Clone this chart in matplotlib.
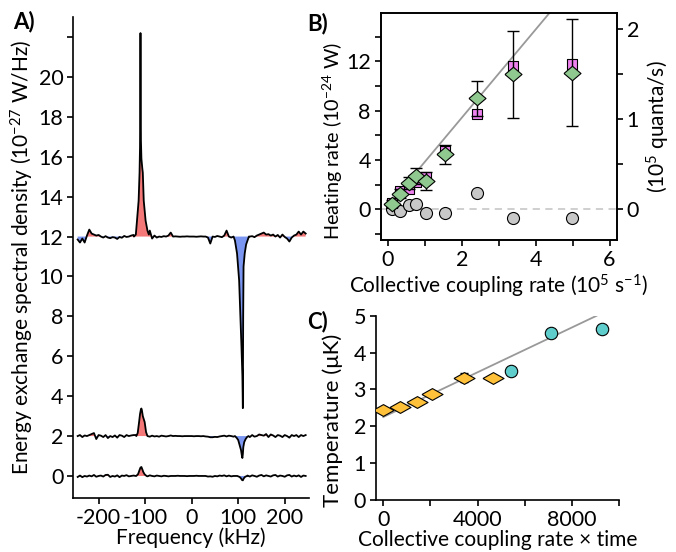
import numpy as np
import matplotlib
matplotlib.use('Agg')
import matplotlib.pyplot as plt
from matplotlib.ticker import MultipleLocator, FixedLocator
from matplotlib.path import Path

plt.rcParams['font.family'] = ['Lato', 'DejaVu Sans']
plt.rcParams['mathtext.fontset'] = 'custom'
plt.rcParams['mathtext.rm'] = 'Lato'
plt.rcParams['mathtext.it'] = 'Lato:italic'
plt.rcParams['axes.unicode_minus'] = False
plt.rcParams['font.size'] = 15
plt.rcParams['axes.linewidth'] = 1.2
for a in ('x', 'y'):
    plt.rcParams[a + 'tick.direction'] = 'out'
    plt.rcParams[a + 'tick.major.width'] = 1.2
    plt.rcParams[a + 'tick.minor.width'] = 1.2
    plt.rcParams[a + 'tick.major.size'] = 4.5
    plt.rcParams[a + 'tick.minor.size'] = 4.5
    plt.rcParams[a + 'tick.major.pad'] = 2.5
    plt.rcParams[a + 'tick.labelsize'] = 15.5

# ---------------- panel A : spectra (deviation from baseline) ----------------
grid = np.arange(-245, 246, 5)
top_noise = [-0.15, -0.3, -0.1, -0.3, 0.05, 0.35, 0.15, 0.1, 0.05, 0.08,
             0.0, -0.05, 0.02, -0.05, -0.08, -0.03, -0.05, -0.12, -0.02, -0.06,
             0.03, -0.02, 0.0, 0.05, 0.08, 0.05, 0.0, 0.0, 0.0, 0.0,
             0.1, 0.3, -0.1, 0.05, -0.05, 0.0, -0.02, 0.02, 0.0, 0.05,
             0.2, 0.0, 0.01, 0.0, -0.01, 0.0, 0.0, 0.01, 0.0, 0.0,
             0.0, -0.01, 0.0, 0.01, 0.0, 0.0, -0.05, -0.35, 0.0, -0.02,
             0.03, 0.0, -0.03, 0.05, 0.3, 0.0, -0.05, 0.0, 0.0, 0.0,
             0.0, 0.0, 0.0, -0.1, 0.0, 0.02, -0.03, 0.05, 0.1, 0.15,
             0.2, 0.1, 0.12, 0.05, 0.1, 0.0, 0.08, -0.05, 0.1, -0.02,
             -0.1, -0.25, -0.05, 0.05, 0.1, 0.25, 0.1, 0.25, 0.15]
top_peak_f = [-124, -120, -117.5, -114, -112, -111, -110, -109, -108, -106, -105, -103, -99, -95, -92]
top_peak_v = [0.0, 0.1, 0.8, 1.8, 3.2, 4.5, 10.2, 4.8, 3.9, 3.4, 3.2, 1.8, 0.8, 0.3, 0.1]
top_dip_f = [90, 93, 97.5, 102, 105, 107, 109, 110, 110.7, 111.5, 114, 117, 120, 123]
top_dip_v = [0.0, -0.2, -0.85, -2.2, -4.2, -5.5, -7.0, -8.6, -4.0, -1.5, -0.85, -0.4, -0.2, 0.0]

mid_noise = [0.0, 0.05, -0.05, 0.03, 0.0, 0.05, 0.1, 0.15, -0.15, 0.05,
             0.02, -0.05, 0.05, -0.1, 0.0, -0.05, 0.03, -0.08, 0.05, 0.02,
             -0.05, 0.05, 0.0, 0.03, 0.05, 0.05, 0.0, 0.0, 0.0, 0.0,
             0.05, -0.03, 0.02, -0.02, 0.0, -0.03, 0.02, 0.0, -0.02, 0.0,
             0.03, 0.0, 0.01, 0.0, 0.0, -0.01, 0.0, 0.0, 0.0, 0.0,
             -0.01, 0.0, 0.0, -0.01, 0.0, -0.02, -0.03, -0.06, -0.06, -0.04,
             -0.05, -0.02, 0.0, 0.02, -0.02, 0.02, 0.0, -0.03, 0.0, 0.0,
             0.0, 0.0, 0.0, 0.0, -0.05, 0.05, -0.03, 0.0, 0.08, 0.05,
             0.02, 0.1, -0.05, 0.08, 0.03, -0.05, 0.05, 0.02, -0.05, 0.05,
             0.0, -0.08, 0.05, 0.0, 0.05, -0.05, 0.05, 0.0, 0.05]
mid_peak_f = [-119, -116, -113, -111, -109, -108, -107, -105, -103, -101, -98, -95]
mid_peak_v = [0.0, 0.15, 0.7, 1.1, 1.35, 1.38, 1.3, 1.0, 0.85, 0.7, 0.2, 0.0]
mid_dip_f = [93, 97, 100, 103, 106, 108, 109, 110, 111, 113, 116, 119, 122]
mid_dip_v = [0.0, -0.1, -0.2, -0.45, -0.7, -1.0, -1.1, -0.9, -0.55, -0.3, -0.15, -0.05, 0.0]

bot_noise = [-0.05, 0.02, -0.06, 0.0, -0.03, 0.02, -0.02, 0.05, -0.04, 0.0,
             0.02, -0.03, 0.05, 0.06, -0.05, 0.0, -0.03, 0.03, -0.06, 0.02,
             0.0, 0.04, -0.02, 0.0, 0.02, 0.0, 0.0, 0.0, 0.0, 0.0,
             -0.02, 0.03, 0.0, -0.02, 0.02, 0.0, -0.02, 0.01, 0.0, -0.02,
             0.0, 0.0, 0.0, 0.01, 0.0, 0.0, 0.0, -0.01, 0.0, 0.0,
             0.0, 0.01, 0.0, 0.0, 0.0, 0.0, -0.03, -0.02, -0.04, 0.0,
             -0.02, 0.02, 0.0, 0.03, -0.02, 0.02, -0.02, 0.0, 0.0, 0.0,
             0.0, 0.0, 0.0, 0.02, -0.03, 0.03, 0.0, -0.04, 0.02, 0.05,
             -0.02, 0.03, 0.0, -0.03, 0.03, 0.05, -0.03, 0.02, 0.0, -0.04,
             0.03, 0.05, -0.03, 0.02, -0.02, 0.03, -0.05, 0.02, 0.0]
bot_peak_f = [-119, -115, -112, -110, -108, -106, -104, -101, -97]
bot_peak_v = [0.0, 0.1, 0.3, 0.42, 0.45, 0.33, 0.2, 0.08, 0.0]
bot_dip_f = [98, 103, 106, 108, 110, 112, 115, 119]
bot_dip_v = [0.0, -0.05, -0.12, -0.2, -0.22, -0.12, -0.04, 0.0]

offsets = [12, 2, 0]

# ---------------- panel B : heating rate ----------------
coupling = [0.1, 0.32, 0.56, 0.77, 1.04, 1.54, 2.40, 3.38, 4.98]
heat_sq = [0.5, 1.49, 1.68, 2.22, 2.63, 4.75, 7.71, 11.67, 11.81]
heat_dm = [0.46, 1.28, 2.12, 2.74, 2.28, 4.45, 9.01, 10.95, 11.08]
heat_err = [0.3, 0.4, 0.5, 0.65, 0.75, 0.8, 1.4, 3.5, 4.35]
heat_ci = [0.0, -0.14, 0.38, 0.46, -0.27, -0.27, 1.30, -0.68, -0.73]
fit_b = [0.0, 4.39]
fit_b_slope = 3.58
fit_b_icpt = 0.28

# ---------------- panel C : temperature ----------------
ct_dm = [0, 705, 1410, 2073, 3413, 4654]
temp_dm = [2.44, 2.51, 2.67, 2.88, 3.32, 3.32]
temp_dm_err = [0.0, 0.0, 0.0, 0.0, 0.12, 0.0]
ct_ci = [5430, 7094, 9280]
temp_ci = [3.49, 4.54, 4.63]
fit_c = [0, 9030]
fit_c_slope = 3.04e-4
fit_c_icpt = 2.25

red = '#F47878'
blue = '#7B96F0'

fig = plt.figure(figsize=(6.76, 5.52), dpi=100)

# panel A
axA = fig.add_axes([0.108, 0.098, 0.349, 0.871])
for noise, pf, pv, df, dv, off in [
        (top_noise, top_peak_f, top_peak_v, top_dip_f, top_dip_v, offsets[0]),
        (mid_noise, mid_peak_f, mid_peak_v, mid_dip_f, mid_dip_v, offsets[1]),
        (bot_noise, bot_peak_f, bot_peak_v, bot_dip_f, bot_dip_v, offsets[2])]:
    noise = np.array(noise)
    keep = ~(((grid >= pf[0]) & (grid <= pf[-1])) | ((grid >= df[0]) & (grid <= df[-1])))
    f = np.concatenate([grid[keep], pf, df])
    v = np.concatenate([noise[keep], pv, dv])
    order = np.argsort(f)
    f, v = f[order], v[order]
    axA.fill_between(f, off, off + v, where=v > 0, interpolate=True, color=red, lw=0)
    axA.fill_between(f, off, off + v, where=v < 0, interpolate=True, color=blue, lw=0)
    axA.plot(f, off + v, color='k', lw=1.3)

axA.set_xlim(-255, 252)
axA.set_ylim(-1.1, 23)
axA.spines['top'].set_visible(False)
axA.spines['right'].set_visible(False)
axA.yaxis.set_major_locator(FixedLocator(np.arange(0, 23, 2)))
axA.set_yticklabels([str(t) for t in range(0, 21, 2)] + [''])
axA.xaxis.set_major_locator(MultipleLocator(100))
axA.set_xlabel('Frequency (kHz)', labelpad=0)
axA.set_ylabel('Energy exchange spectral density (10$^{-27}$ W/Hz)')
axA.yaxis.set_label_coords(-0.155, 0.5)

# panel B
axB = fig.add_axes([0.563, 0.565, 0.3496, 0.4118])
xb = np.array(fit_b)
axB.plot(xb, fit_b_icpt + fit_b_slope * xb, color='#999999', lw=1.3, zorder=1)
axB.axhline(0, color='#cccccc', lw=1.3, ls=(0, (4, 3)), zorder=1)
axB.scatter(coupling, heat_ci, s=75, marker='o', color='#c8c8c8', edgecolor='k', lw=0.8, zorder=2)
axB.scatter(coupling, heat_sq, s=60, marker='s', color='#EE82EE', edgecolor='k', lw=0.8, zorder=3)
diam_b = Path([(-1, 0), (0, 0.85), (1, 0), (0, -0.85), (-1, 0)])
axB.errorbar(coupling, heat_dm, yerr=heat_err, fmt='none', ecolor='k', elinewidth=1.0, capsize=4, capthick=1.0, zorder=3)
axB.scatter(coupling, heat_dm, s=150, marker=diam_b, color='#8FC98F', edgecolor='k', lw=0.8, zorder=4)
axB.set_xlim(-0.2, 6.2)
axB.set_ylim(-2.5, 15.95)
axB.xaxis.set_major_locator(MultipleLocator(2))
axB.xaxis.set_minor_locator(MultipleLocator(1))
axB.yaxis.set_major_locator(MultipleLocator(4))
axB.yaxis.set_minor_locator(MultipleLocator(2))
axB.set_xlabel('Collective coupling rate (10$^5$ s$^{-1}$)', labelpad=2)
axB.set_ylabel('Heating rate (10$^{-24}$ W)', fontsize=14.2)
axB.yaxis.set_label_coords(-0.15, 0.435)
axB2 = axB.twinx()
axB2.set_ylim(-2.5 / 7.33, 15.95 / 7.33)
axB2.yaxis.set_major_locator(MultipleLocator(1))
axB2.yaxis.set_minor_locator(MultipleLocator(0.5))
axB2.set_ylabel('(10$^5$ quanta/s)', labelpad=4)

# panel C
axC = fig.add_axes([0.5558, 0.0942, 0.3604, 0.334])
xc = np.array(fit_c)
axC.plot(xc, fit_c_icpt + fit_c_slope * xc, color='#999999', lw=1.3, zorder=1)
diam_c = Path([(-1, 0), (0, 0.56), (1, 0), (0, -0.56), (-1, 0)])
axC.errorbar(ct_dm, temp_dm, yerr=temp_dm_err, fmt='none', ecolor='k', elinewidth=1.0, capsize=3, zorder=2)
axC.scatter(ct_dm, temp_dm, s=230, marker=diam_c, color='#FFC03A', edgecolor='k', lw=0.8, zorder=3)
axC.scatter(ct_ci, temp_ci, s=80, marker='o', color='#5FCDCB', edgecolor='k', lw=0.8, zorder=3)
axC.set_xlim(-320, 10000)
axC.set_ylim(0, 5)
axC.spines['top'].set_visible(False)
axC.spines['right'].set_visible(False)
axC.xaxis.set_major_locator(MultipleLocator(4000))
axC.xaxis.set_minor_locator(MultipleLocator(2000))
axC.yaxis.set_major_locator(MultipleLocator(1))
axC.set_xlabel('Collective coupling rate \u00d7 time', labelpad=0)
axC.set_ylabel('Temperature (\u03bcK)', fontsize=16)
axC.yaxis.set_label_coords(-0.135, 0.43)

fig.text(0.02, 0.948, 'A)', fontsize=16, fontweight='bold')
fig.text(0.455, 0.945, 'B)', fontsize=16, fontweight='bold')
fig.text(0.455, 0.405, 'C)', fontsize=16, fontweight='bold')

fig.savefig('out.png', dpi=100)
